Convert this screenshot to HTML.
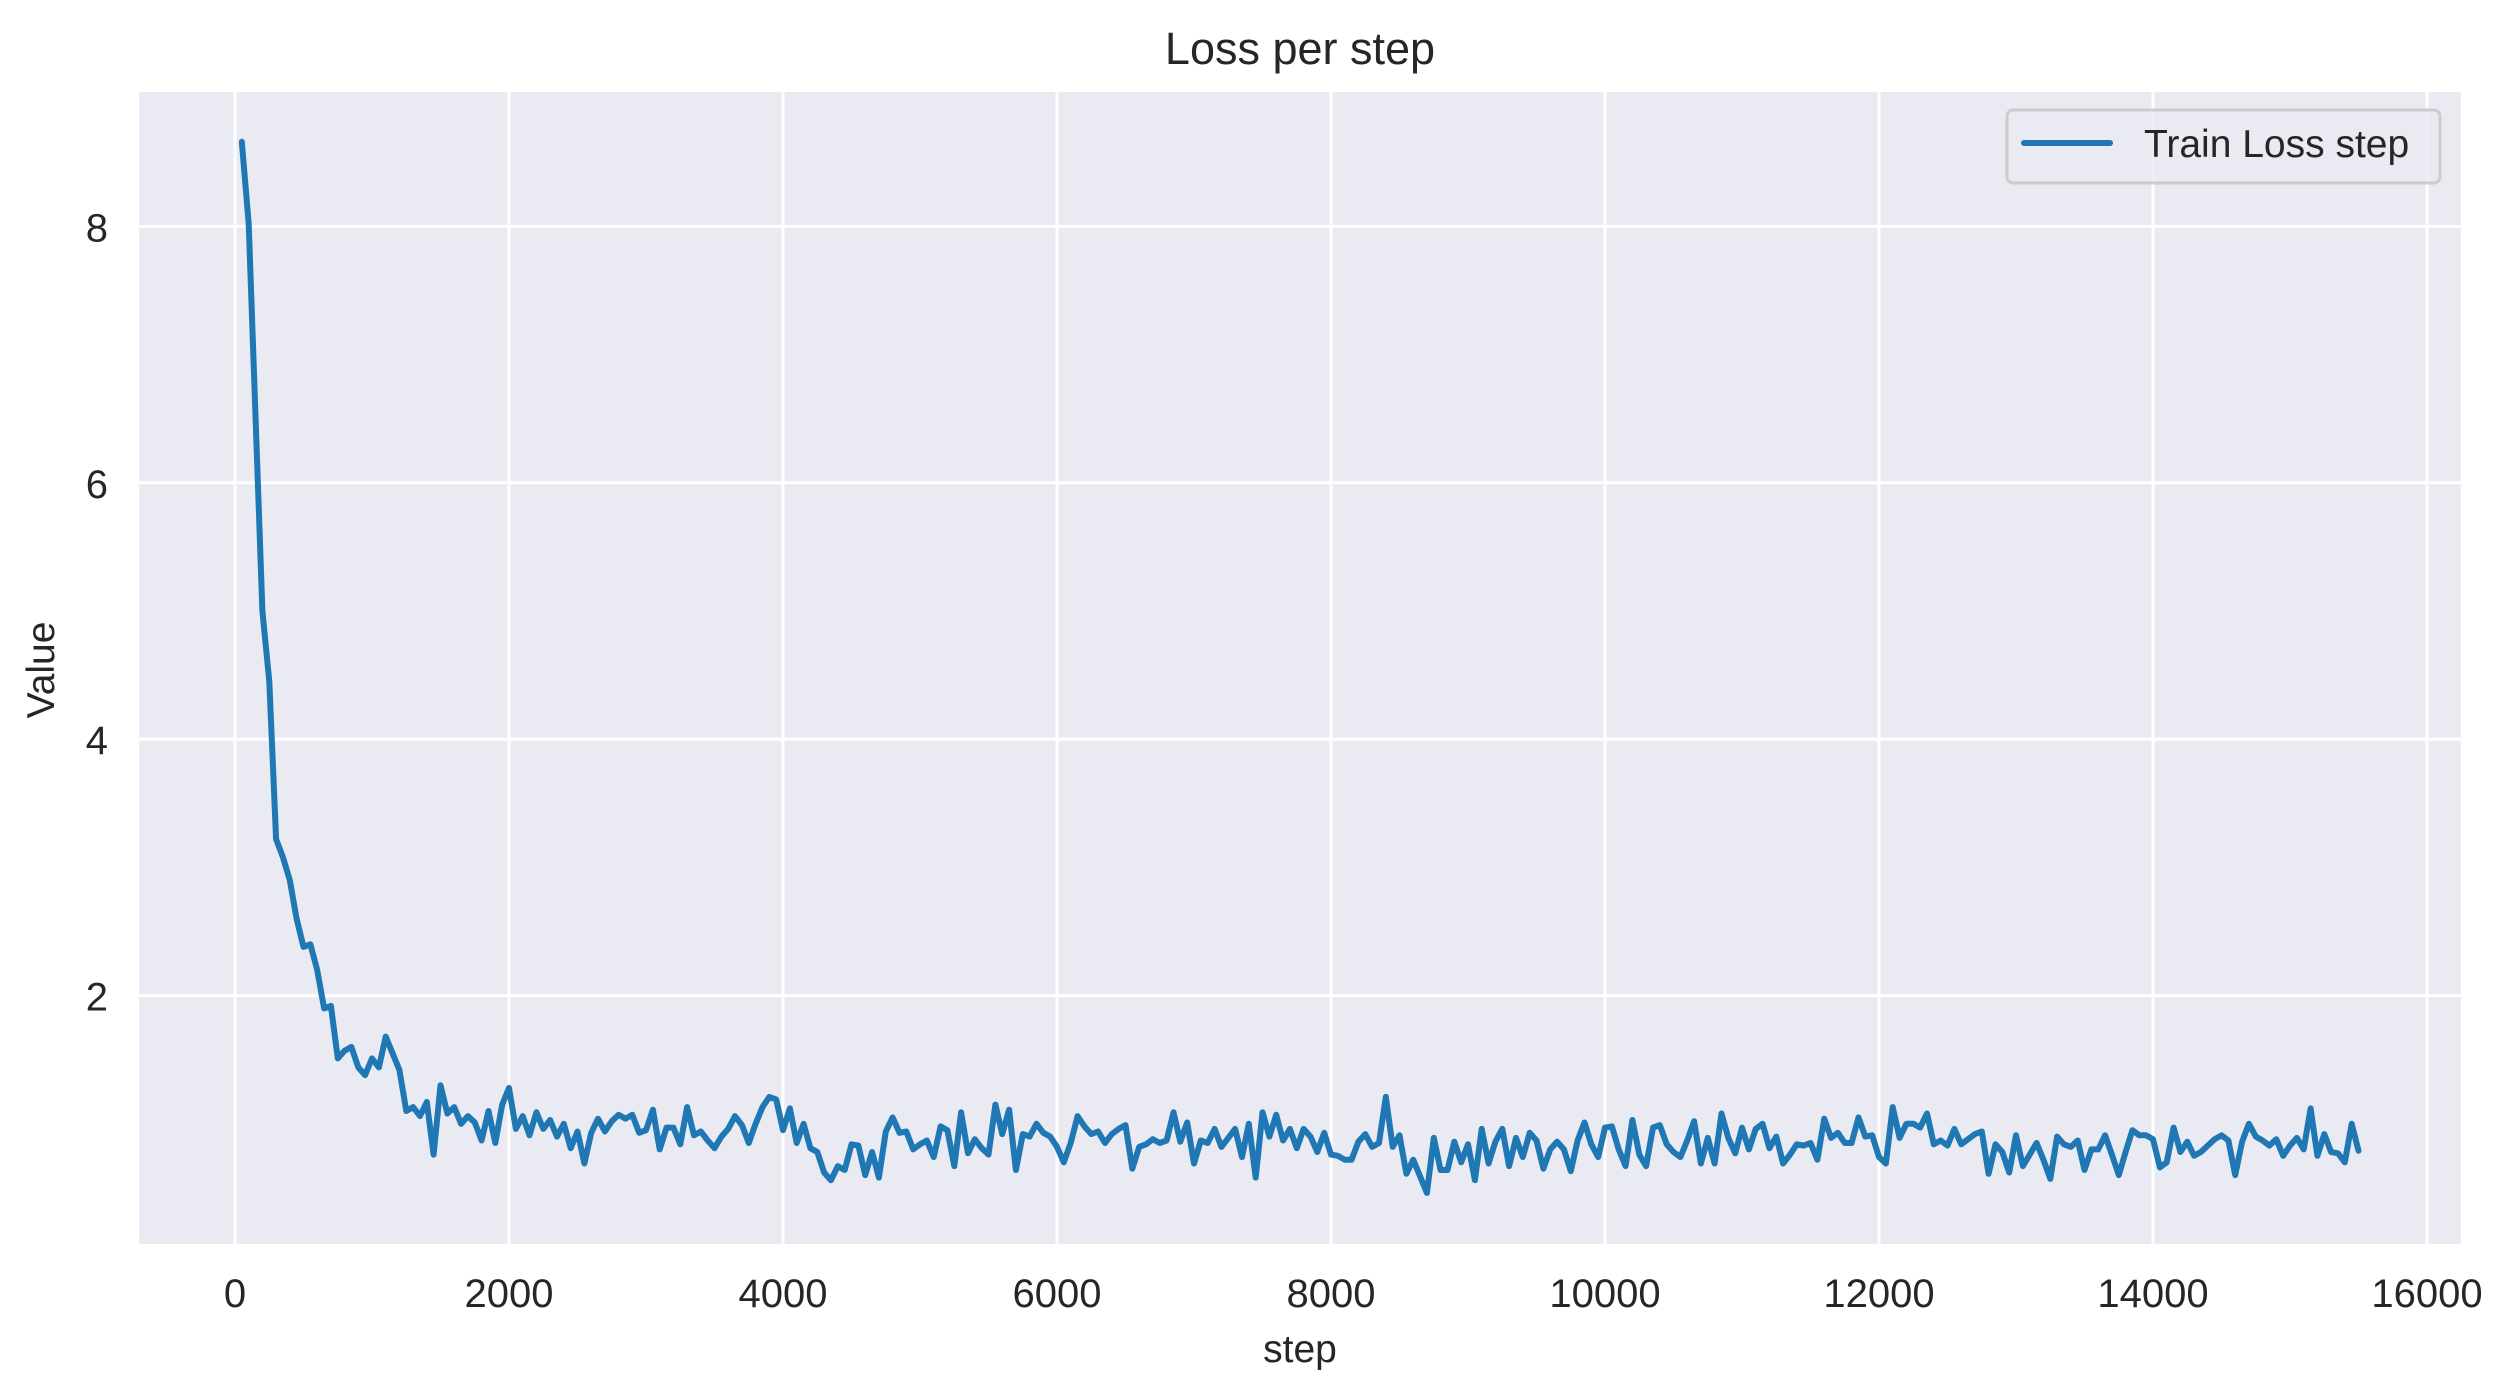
<!DOCTYPE html>
<html><head><meta charset="utf-8"><style>
html,body{margin:0;padding:0;background:#fff;}
svg{display:block;font-family:"Liberation Sans",Arial,sans-serif;}
</style></head><body>
<svg id="chart" width="2512" height="1397" viewBox="0 0 2512 1397" xmlns="http://www.w3.org/2000/svg">
<rect x="139" y="92" width="2322" height="1152" fill="#eaeaf2"/>
<g id="grid"></g>
<g id="ticks"></g>
<path id="series" fill="none" stroke="#1f77b4" stroke-width="6" stroke-linejoin="round" stroke-linecap="round"/>
<text x="1300" y="64" font-size="45" text-anchor="middle" fill="#262626">Loss per step</text>
<text x="1300" y="1362" font-size="39" text-anchor="middle" fill="#262626">step</text>
<text x="0" y="0" font-size="39" text-anchor="middle" fill="#262626" transform="translate(54,670) rotate(-90)">Value</text>
<g>
<rect x="2007" y="110" width="433" height="73" rx="6" fill="#eaeaf2" fill-opacity="0.8" stroke="#cccccc" stroke-width="3"/>
<line x1="2024" y1="143" x2="2110" y2="143" stroke="#1f77b4" stroke-width="6" stroke-linecap="round"/>
<text x="2144" y="157" font-size="39" fill="#262626">Train Loss step</text>
</g>
</svg>
<script>
const xTicks = [0,2000,4000,6000,8000,10000,12000,14000,16000];
const yTicks = [2,4,6,8];
const stepStart = 50;
const stepInterval = 50;
const lossValues = [8.66,8.02,6.5,5.0,4.45,3.22,3.08,2.9,2.6,2.38,2.4,2.2,1.9,1.92,
1.51,1.57,1.60,1.44,1.38,1.51,1.44,1.68,1.55,1.42,1.10,1.13,1.06,1.17,0.76,1.30,1.08,1.13,1.00,1.06,1.01,0.87,1.10,0.85,1.15,1.28,
0.96,1.06,0.91,1.09,0.96,1.03,0.90,1.00,0.81,0.94,0.69,0.93,1.04,0.94,1.02,1.07,1.04,1.07,0.93,0.95,1.11,0.80,0.97,0.97,0.84,1.13,0.91,
0.94,0.87,0.81,0.90,0.96,1.06,0.99,0.85,1.00,1.13,1.21,1.19,0.95,1.12,0.85,1.00,0.81,0.78,0.62,0.56,0.67,0.64,0.84,0.83,0.60,0.78,0.58,
0.94,1.05,0.93,0.94,0.80,0.84,0.87,0.74,0.98,0.95,0.67,1.09,0.77,0.88,0.81,0.76,1.15,0.92,1.11,0.64,0.92,0.90,1.00,0.93,0.90,0.82,0.70,
0.85,1.06,0.98,0.92,0.94,0.85,0.92,0.96,0.99,0.65,0.82,0.84,0.88,0.85,0.87,1.09,0.86,1.01,0.69,0.87,0.85,0.96,0.82,0.89,0.96,0.74,1.00,
0.58,1.09,0.90,1.07,0.87,0.96,0.81,0.96,0.90,0.78,0.93,0.76,0.75,0.72,0.72,0.86,0.92,0.82,0.85,1.21,0.82,0.91,0.61,0.72,0.59,0.46,0.89,
0.64,0.64,0.86,0.70,0.84,0.56,0.96,0.69,0.86,0.96,0.67,0.89,0.74,0.93,0.87,0.65,0.80,0.86,0.80,0.63,0.87,1.01,0.84,0.74,0.97,0.98,0.80,
0.67,1.03,0.76,0.67,0.97,0.99,0.84,0.78,0.74,0.87,1.02,0.69,0.89,0.69,1.08,0.89,0.77,0.97,0.80,0.96,1.00,0.81,0.90,0.69,0.76,0.84,0.83,
0.85,0.72,1.04,0.89,0.93,0.85,0.85,1.05,0.90,0.91,0.74,0.69,1.13,0.89,1.00,1.00,0.97,1.08,0.84,0.87,0.83,0.96,0.84,0.88,0.92,0.94,0.61,
0.84,0.78,0.62,0.91,0.67,0.76,0.85,0.72,0.57,0.90,0.84,0.82,0.87,0.64,0.80,0.80,0.91,0.76,0.60,0.78,0.95,0.91,0.91,0.88,0.66,0.70,0.97,
0.78,0.86,0.75,0.78,0.83,0.88,0.91,0.87,0.60,0.86,1.00,0.90,0.87,0.83,0.88,0.75,0.83,0.89,0.80,1.12,0.75,0.92,0.78,0.77,0.70,1.00,0.79];

const NS='http://www.w3.org/2000/svg';
function xScale(s){return 235+0.137*s;}
function yScale(v){return 1252-128.2*v;}
const grid=document.getElementById('grid');
const ticks=document.getElementById('ticks');
xTicks.forEach(t=>{
  const l=document.createElementNS(NS,'line');
  l.setAttribute('x1',xScale(t));l.setAttribute('x2',xScale(t));
  l.setAttribute('y1',92);l.setAttribute('y2',1244);
  l.setAttribute('stroke','#fff');l.setAttribute('stroke-width','3');
  
  
  grid.appendChild(l);
  const tx=document.createElementNS(NS,'text');
  tx.setAttribute('x',xScale(t));tx.setAttribute('y',1307);
  tx.setAttribute('font-size','40');tx.setAttribute('text-anchor','middle');tx.setAttribute('fill','#262626');
  tx.textContent=t;
  
  
  ticks.appendChild(tx);
});
yTicks.forEach(t=>{
  const l=document.createElementNS(NS,'line');
  l.setAttribute('x1',139);l.setAttribute('x2',2461);
  l.setAttribute('y1',yScale(t));l.setAttribute('y2',yScale(t));
  l.setAttribute('stroke','#fff');l.setAttribute('stroke-width','3');
  
  
  grid.appendChild(l);
  const tx=document.createElementNS(NS,'text');
  tx.setAttribute('x',108);tx.setAttribute('y',yScale(t)+15);
  tx.setAttribute('font-size','40');tx.setAttribute('text-anchor','end');tx.setAttribute('fill','#262626');
  tx.textContent=t;
  
  
  ticks.appendChild(tx);
});
let d='';
lossValues.forEach((v,i)=>{
  const s=stepStart+i*stepInterval;
  d+=(i?'L':'M')+xScale(s).toFixed(1)+','+yScale(v).toFixed(1);
});
document.getElementById('series').setAttribute('d',d);
</script>
</body></html>
